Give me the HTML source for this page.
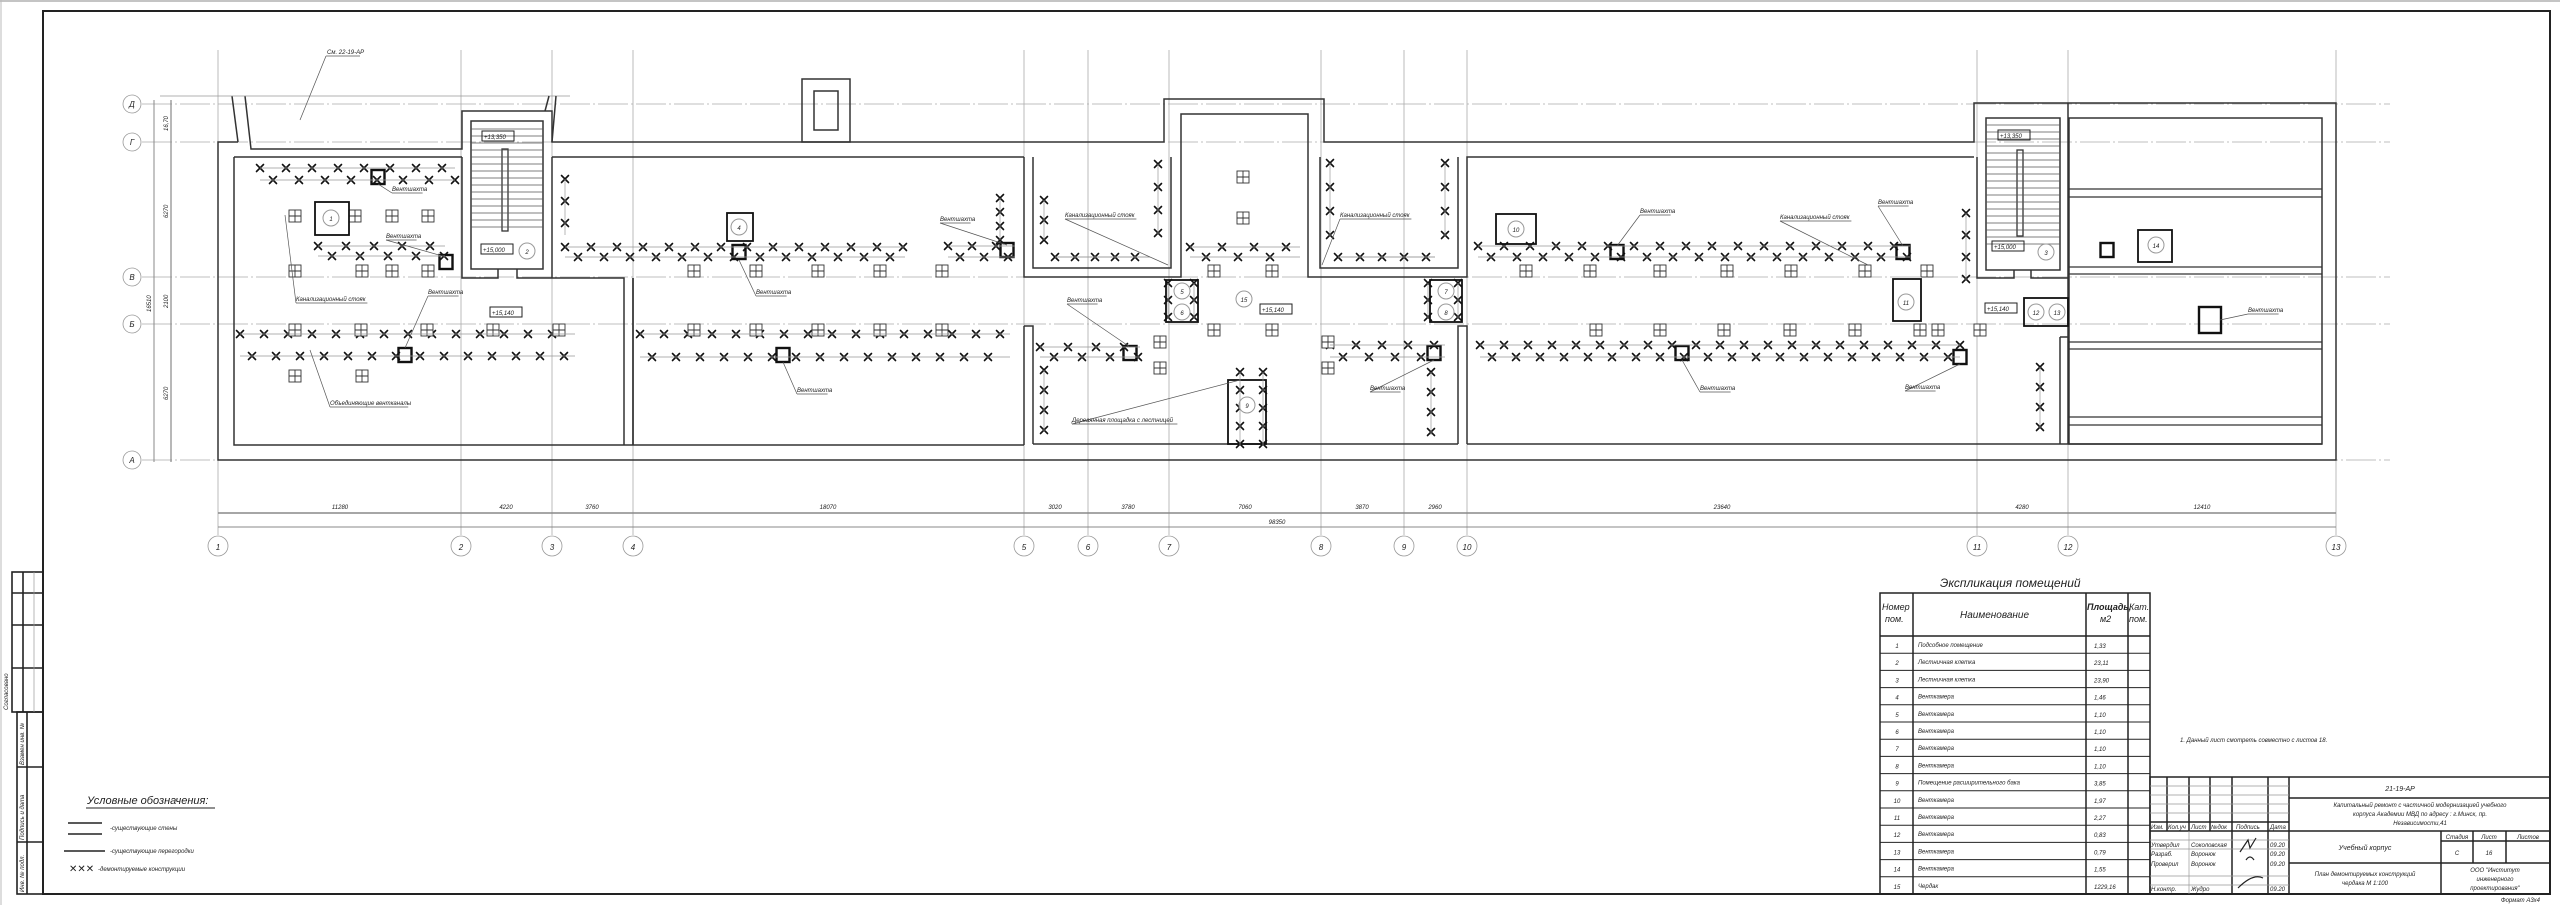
<!DOCTYPE html>
<html><head><meta charset="utf-8">
<style>
html,body{margin:0;padding:0;background:#fff;}
svg{display:block;}
text{font-family:"Liberation Sans","DejaVu Sans",sans-serif;font-style:italic;fill:#222;}
.t{font-size:7px;}
.s{font-size:6px;}
.m{font-size:8px;}
</style></head>
<body>
<svg id="d" width="2560" height="905" viewBox="0 0 2560 905" xmlns="http://www.w3.org/2000/svg">
<rect width="2560" height="905" fill="#fff"/>
<!-- frame -->
<rect x="43" y="11" width="2507" height="883" fill="none" stroke="#222" stroke-width="2"/>
<line x1="0" y1="1" x2="2560" y2="1" stroke="#888" stroke-width="1"/>
<line x1="1" y1="0" x2="1" y2="905" stroke="#bbb" stroke-width="1"/>
<!-- left stamp -->
<g fill="none" stroke="#222" stroke-width="1.6">
<rect x="12" y="572" width="31" height="140"/>
<line x1="23" y1="572" x2="23" y2="712"/>
<line x1="12" y1="593" x2="43" y2="593"/><line x1="12" y1="625" x2="43" y2="625"/><line x1="12" y1="668" x2="43" y2="668"/>
<rect x="17" y="712" width="26" height="182"/>
<line x1="27" y1="712" x2="27" y2="894"/>
<line x1="17" y1="767" x2="43" y2="767"/><line x1="17" y1="842" x2="43" y2="842"/>
</g>
<g stroke="#999" stroke-width="0.7"><line x1="34" y1="572" x2="34" y2="712"/></g>
<text class="s" transform="translate(8,710) rotate(-90)">Согласовано</text>
<text class="s" transform="translate(24,765) rotate(-90)">Взамен инв. №</text>
<text class="s" transform="translate(24,840) rotate(-90)">Подпись и дата</text>
<text class="s" transform="translate(24,892) rotate(-90)">Инв. № подл.</text>

<!-- axis lines -->
<g id="axes" stroke="#aaa" stroke-width="0.8" fill="none"></g>
<g id="plan" fill="none" stroke="#333" stroke-width="1.5">
<!-- outer walls -->
<polyline points="238,142 218,142 218,460 2336,460 2336,103 1974,103 1974,142 1324,142 1324,99 1164,99 1164,142 552,142 552,111 462,111 462,142 462,149 251,149 245,96"/>
<polyline points="238,142 232,96"/>
<line x1="160" y1="96" x2="570" y2="96" stroke="#999" stroke-width="0.8"/>
<polyline points="552,142 556,96"/><polyline points="545,111 549,96"/>
<!-- inner walls -->
<polyline points="234,157 234,445 1024,445"/>
<line x1="234" y1="157" x2="462" y2="157"/>
<rect x="471" y="121" width="72" height="148"/>
<polyline points="462,157 462,278 498,278 498,269"/><polyline points="517,269 517,278 624,278 624,445"/>
<polyline points="552,157 552,278"/><polyline points="633,445 633,278 633,278"/>
<line x1="552" y1="157" x2="1024" y2="157"/>
<line x1="633" y1="278" x2="633" y2="445"/>
<!-- middle -->
<polyline points="1024,157 1024,277 1181,277 1181,114 1308,114 1308,277 1467,277 1467,157 1974,157"/>
<polyline points="1033,157 1033,268 1171,268 1171,157"/>
<polyline points="1320,157 1320,268 1458,268 1458,157"/>
<polyline points="1024,326 1033,326 1033,444"/><line x1="1024" y1="326" x2="1024" y2="445"/>
<polyline points="1458,444 1458,326 1467,326 1467,444"/>
<line x1="1033" y1="444" x2="1458" y2="444"/>
<line x1="1467" y1="444" x2="2322" y2="444"/>
<!-- right stair -->
<polyline points="1977,157 1977,278 2014,278 2014,270"/><polyline points="2031,270 2031,278 2068,278 2068,103"/>
<rect x="1986" y="118" width="74" height="152"/>
<rect x="2069" y="118" width="253" height="326"/>
<line x1="2060" y1="337" x2="2060" y2="444"/><line x1="2060" y1="337" x2="2068" y2="337"/><line x1="2068" y1="278" x2="2068" y2="444"/>
<g stroke-width="1.2">
<line x1="2069" y1="189" x2="2322" y2="189"/><line x1="2069" y1="197" x2="2322" y2="197"/>
<line x1="2069" y1="267" x2="2322" y2="267"/><line x1="2069" y1="274" x2="2322" y2="274"/>
<line x1="2069" y1="342" x2="2322" y2="342"/><line x1="2069" y1="349" x2="2322" y2="349"/>
<line x1="2069" y1="417" x2="2322" y2="417"/><line x1="2069" y1="425" x2="2322" y2="425"/>
</g>
<!-- top small box -->
<rect x="802" y="79" width="48" height="63"/><rect x="814" y="91" width="24" height="39"/>
</g>
<!-- stairs -->
<g id="stairs" stroke="#555" stroke-width="0.7" fill="none"></g>
<g id="marks" stroke="#111" stroke-width="1.6" fill="none" stroke-linecap="round"></g>
<g id="sq" stroke="#333" stroke-width="0.9" fill="#fff"></g>
<g id="vs" stroke="#111" stroke-width="2.4" fill="none"></g>
<g id="circ" stroke="#999" stroke-width="1" fill="#fff"></g>
<g id="lead" stroke="#555" stroke-width="0.7" fill="none"></g>
<g id="txt"></g>

<!-- Room schedule -->
<text x="1940" y="587" style="font-size:12px">Экспликация помещений</text>
<g fill="none" stroke="#222" stroke-width="1.5">
<rect x="1880" y="593" width="270" height="301"/>
<line x1="1913" y1="593" x2="1913" y2="894"/><line x1="2086" y1="593" x2="2086" y2="894"/><line x1="2128" y1="593" x2="2128" y2="894"/>
<line x1="1880" y1="636" x2="2150" y2="636"/>
</g>
<g id="tbl" stroke="#222" stroke-width="1"></g>
<text x="1882" y="610" style="font-size:9px">Номер</text><text x="1885" y="622" style="font-size:9px">пом.</text>
<text x="1960" y="618" style="font-size:10px">Наименование</text>
<text x="2087" y="610" style="font-size:9px;font-weight:bold">Площадь,</text><text x="2100" y="622" style="font-size:9px">м2</text>
<text x="2129" y="610" style="font-size:9px">Кат.</text><text x="2129" y="622" style="font-size:9px">пом.</text>

<!-- title block -->
<g fill="none" stroke="#222" stroke-width="1.5">
<rect x="2150" y="777" width="400" height="117"/>
<line x1="2289" y1="777" x2="2289" y2="894"/>
<line x1="2289" y1="798" x2="2550" y2="798"/>
<line x1="2150" y1="831" x2="2550" y2="831"/>
<line x1="2289" y1="863" x2="2550" y2="863"/>
<line x1="2441" y1="831" x2="2441" y2="894"/>
<line x1="2473" y1="831" x2="2473" y2="863"/><line x1="2506" y1="831" x2="2506" y2="863"/>
<line x1="2441" y1="841" x2="2550" y2="841"/>
<line x1="2150" y1="822" x2="2289" y2="822"/>
<line x1="2167" y1="777" x2="2167" y2="831"/><line x1="2189" y1="777" x2="2189" y2="831"/><line x1="2210" y1="777" x2="2210" y2="831"/>
<line x1="2232" y1="777" x2="2232" y2="894"/><line x1="2268" y1="777" x2="2268" y2="894"/>
</g>
<g stroke="#999" stroke-width="0.7">
<line x1="2150" y1="786" x2="2289" y2="786"/><line x1="2150" y1="795" x2="2289" y2="795"/><line x1="2150" y1="804" x2="2289" y2="804"/><line x1="2150" y1="813" x2="2289" y2="813"/>
<line x1="2150" y1="840" x2="2289" y2="840"/><line x1="2150" y1="849" x2="2289" y2="849"/><line x1="2150" y1="876" x2="2289" y2="876"/><line x1="2150" y1="885" x2="2289" y2="885"/>
<line x1="2189" y1="831" x2="2189" y2="894"/>
</g>
<g class="s">
<text x="2151" y="829" class="s">Изм.</text><text x="2168" y="829" class="s">Кол.уч</text><text x="2191" y="829" class="s">Лист</text><text x="2211" y="829" class="s">№док</text><text x="2236" y="829" class="s">Подпись</text><text x="2270" y="829" class="s">Дата</text>
<text x="2151" y="847" class="s">Утвердил</text><text x="2191" y="847" class="s">Соколовская</text><text x="2270" y="847" class="s">09.20</text>
<text x="2151" y="856" class="s">Разраб.</text><text x="2191" y="856" class="s">Воронюк</text><text x="2270" y="856" class="s">09.20</text>
<text x="2151" y="866" class="s">Проверил</text><text x="2191" y="866" class="s">Воронюк</text><text x="2270" y="866" class="s">09.20</text>
<text x="2151" y="891" class="s">Н.контр.</text><text x="2191" y="891" class="s">Жудро</text><text x="2270" y="891" class="s">09.20</text>
</g>
<path d="M2240 852 l8 -12 l2 8 l6 -10 M2246 860 q4 -6 8 0 M2238 888 q15 -15 25 -10" stroke="#222" fill="none" stroke-width="1.2"/>
<text x="2400" y="791" class="t" text-anchor="middle">21-19-АР</text>
<text x="2420" y="807" class="s" text-anchor="middle">Капитальный ремонт с частичной модернизацией учебного</text>
<text x="2420" y="816" class="s" text-anchor="middle">корпуса Академии МВД по адресу : г.Минск, пр.</text>
<text x="2420" y="825" class="s" text-anchor="middle">Независимости,41</text>
<text x="2365" y="850" class="t" text-anchor="middle">Учебный корпус</text>
<text x="2457" y="839" class="s" text-anchor="middle">Стадия</text><text x="2489" y="839" class="s" text-anchor="middle">Лист</text><text x="2528" y="839" class="s" text-anchor="middle">Листов</text>
<text x="2457" y="855" class="s" text-anchor="middle">С</text><text x="2489" y="855" class="s" text-anchor="middle">16</text>
<text x="2365" y="876" class="s" text-anchor="middle">План демонтируемых конструкций</text>
<text x="2365" y="885" class="s" text-anchor="middle">чердака М 1:100</text>
<text x="2495" y="872" class="s" text-anchor="middle">ООО "Институт</text>
<text x="2495" y="881" class="s" text-anchor="middle">инженерного</text>
<text x="2495" y="890" class="s" text-anchor="middle">проектирования"</text>
<text x="2540" y="902" class="s" text-anchor="end">Формат А3х4</text>
<text x="2180" y="742" class="s">1. Данный лист смотреть совместно с листов 18.</text>

<!-- legend -->
<text x="87" y="804" style="font-size:11px">Условные обозначения:</text>
<line x1="86" y1="808" x2="215" y2="808" stroke="#222" stroke-width="1"/>
<g stroke="#222" stroke-width="1.5"><line x1="68" y1="823" x2="102" y2="823"/><line x1="68" y1="834" x2="102" y2="834"/><line x1="64" y1="851" x2="105" y2="851"/></g>
<text x="110" y="830" class="s">-существующие стены</text>
<text x="110" y="853" class="s">-существующие перегородки</text>
<text x="69" y="872" style="font-size:10px;font-weight:bold;font-style:normal">✕✕✕</text>
<text x="98" y="871" class="s">-демонтируемые конструкции</text>
</svg>
<script>
var NS="http://www.w3.org/2000/svg";
function el(g,t,a,txt){var e=document.createElementNS(NS,t);for(var k in a)e.setAttribute(k,a[k]);if(txt!==undefined)e.textContent=txt;document.getElementById(g).appendChild(e);return e;}
// axes
var vx=[218,461,552,633,1024,1088,1169,1321,1404,1467,1977,2068,2336];
vx.forEach(function(x,i){el('axes','line',{x1:x,y1:50,x2:x,y2:535});
 el('axes','circle',{cx:x,cy:546,r:10,stroke:'#999'});
 el('txt','text',{x:x,y:550,'text-anchor':'middle','class':'m',fill:'#777'},String(i+1));});
var hy=[[104,'Д'],[142,'Г'],[277,'В'],[324,'Б'],[460,'А']];
hy.forEach(function(r){el('axes','line',{x1:142,y1:r[0],x2:2390,y2:r[0],'stroke-dasharray':'30 3 2 3'});
 el('axes','circle',{cx:132,cy:r[0],r:9,stroke:'#999',fill:'#fff'});
 el('txt','text',{x:132,y:r[0]+3,'text-anchor':'middle','class':'m',fill:'#777'},r[1]);});
// dims
el('axes','line',{x1:218,y1:513,x2:2336,y2:513,stroke:'#888','stroke-width':1.5});
el('axes','line',{x1:218,y1:527,x2:2336,y2:527,stroke:'#888','stroke-width':1});
var dt=[[340,'11280'],[506,'4220'],[592,'3760'],[828,'18070'],[1055,'3020'],[1128,'3780'],[1245,'7060'],[1362,'3870'],[1435,'2960'],[1722,'23640'],[2022,'4280'],[2202,'12410']];
dt.forEach(function(d){el('txt','text',{x:d[0],y:509,'text-anchor':'middle','class':'s'},d[1]);});
el('txt','text',{x:1277,y:524,'text-anchor':'middle','class':'s'},'98350');
el('axes','line',{x1:171,y1:100,x2:171,y2:462,stroke:'#888','stroke-width':1.2});
el('axes','line',{x1:154,y1:100,x2:154,y2:462,stroke:'#888','stroke-width':1});
[[123,'16,70'],[210,'6270'],[300,'2100'],[392,'6270']].forEach(function(d){var t=el('txt','text',{x:0,y:0,'class':'s',transform:'translate(168,'+(d[0]+8)+') rotate(-90)'},d[1]);});
el('txt','text',{x:0,y:0,'class':'s',transform:'translate(151,312) rotate(-90)'},'16510');
// stairs
function stair(x1,x2,y1,y2){for(var y=y1;y<y2;y+=7)el('stairs','line',{x1:x1,y1:y,x2:x2,y2:y});}
stair(471,543,129,230);stair(1986,2060,125,245);
el('plan','rect',{x:502,y:149,width:6,height:82,'stroke-width':1.3});
el('plan','rect',{x:2017,y:150,width:6,height:86,'stroke-width':1.3});
// crosses
function X(x,y){var s=3.5;el('marks','path',{d:'M'+(x-s)+' '+(y-s)+'L'+(x+s)+' '+(y+s)+'M'+(x+s)+' '+(y-s)+'L'+(x-s)+' '+(y+s)});}
function row(y1,y2,xa,xb,st){var k=0;for(var x=xa;x<=xb;x+=st){X(x,(k%2?y2:y1));k++;}
 el('lead','line',{x1:xa,y1:y1,x2:xb,y2:y1,stroke:'#999'});el('lead','line',{x1:xa,y1:y2,x2:xb,y2:y2,stroke:'#999'});}
function col(x,ya,yb,st){for(var y=ya;y<=yb;y+=st)X(x,y);el('lead','line',{x1:x,y1:ya,x2:x,y2:yb,stroke:'#999'});}
row(168,180,260,455,13);row(246,256,318,445,14);row(334,356,240,575,12);
col(565,179,235,22);row(247,257,565,905,13);row(334,357,640,1010,12);
row(246,257,948,1015,12);col(1000,198,240,14);
col(1158,164,235,23);row(257,257,1055,1150,20);col(1044,200,240,20);
col(1330,163,236,24);col(1445,163,236,24);row(257,257,1338,1435,22);
row(247,257,1190,1300,16);
row(347,357,1040,1140,14);col(1044,370,432,20);
row(345,357,1330,1445,13);col(1431,372,435,20);
row(246,257,1478,1910,13);row(345,357,1480,1960,12);col(2040,367,429,20);col(1966,213,280,22);
col(1168,283,318,17);col(1194,283,318,17);col(1428,283,318,17);col(1458,283,318,17);
col(1240,372,445,18);col(1263,372,445,18);
// squares
function S(x,y){el('sq','rect',{x:x-6,y:y-6,width:12,height:12});el('sq','path',{d:'M'+x+' '+(y-6)+'V'+(y+6)+'M'+(x-6)+' '+y+'H'+(x+6),fill:'none'});}
[[295,216],[355,216],[392,216],[428,216],[295,271],[362,271],[392,271],[428,271],[295,376],[362,376],[1243,177],[1243,218],[1160,342],[1160,368],[1328,342],[1328,368]].forEach(function(p){S(p[0],p[1]);});
for(var x=295;x<600;x+=66)S(x,330);
for(var x=694;x<1000;x+=62){S(x,271);S(x,330);}
[1214,1272,1596,1660,1724,1790,1855,1920,1938,1980].forEach(function(x){S(x,330);});
[1214,1272,1526,1590,1660,1727,1791,1865,1927].forEach(function(x){S(x,271);});
// vent shafts
function V(x,y,w,h){el('vs','rect',{x:x-w/2,y:y-h/2,width:w,height:h});}
[[378,177],[446,262],[405,355],[739,252],[783,355],[1007,250],[1130,353],[1617,252],[1682,353],[1434,353],[1903,252],[1960,357],[2107,250]].forEach(function(p){V(p[0],p[1],13,14);});
V(2210,320,22,26);
// room boxes
function R(x,y,w,h){el('vs','rect',{x:x,y:y,width:w,height:h,'stroke-width':1.8});}
R(315,202,34,33);R(727,213,26,28);R(1166,280,32,42);R(1430,280,32,42);R(1228,380,38,64);R(1496,214,40,30);R(1893,279,28,42);R(2024,298,44,28);R(2138,230,34,32);
// circles
var cs=[[331,218,'1'],[527,251,'2'],[739,227,'4'],[1182,291,'5'],[1182,312,'6'],[1244,299,'15'],[1446,291,'7'],[1446,312,'8'],[1247,405,'9'],[1516,229,'10'],[2046,252,'3'],[1906,302,'11'],[2036,312,'12'],[2057,312,'13'],[2156,245,'14']];
cs.forEach(function(c){el('circ','circle',{cx:c[0],cy:c[1],r:8});el('txt','text',{x:c[0],y:c[1]+3,'text-anchor':'middle','class':'s'},c[2]);});
// labels
function L(x,y,t,lx,ly){var e=el('txt','text',{x:x,y:y,'class':'s'},t);var w=t.length*3.4;
 el('lead','line',{x1:x,y1:y+2,x2:x+w,y2:y+2});if(lx!==undefined)el('lead','line',{x1:x,y1:y+2,x2:lx,y2:ly});}
L(392,191,'Вентшахта',378,184);L(386,238,'Вентшахта',446,257);L(428,294,'Вентшахта',405,348);
L(296,301,'Канализационный стояк',285,215);L(756,294,'Вентшахта',739,260);
L(330,405,'Объединяющие вентканалы',310,350);L(797,392,'Вентшахта',783,362);
L(940,221,'Вентшахта',1007,245);L(1065,217,'Канализационный стояк',1168,265);
L(1340,217,'Канализационный стояк',1322,265);L(1640,213,'Вентшахта',1617,246);
L(1067,302,'Вентшахта',1130,347);L(1072,422,'Деревянная площадка с лестницей',1240,380);
L(1370,390,'Вентшахта',1434,360);L(1700,390,'Вентшахта',1682,360);
L(1878,204,'Вентшахта',1903,246);L(1780,219,'Канализационный стояк',1868,265);
L(1905,389,'Вентшахта',1960,364);L(2248,312,'Вентшахта',2220,320);
el('txt','text',{x:327,y:54,'class':'s'},'См. 22-19-АР');el('lead','line',{x1:326,y1:56,x2:360,y2:56});el('lead','line',{x1:326,y1:56,x2:300,y2:120});
function B(x,y,t){el('lead','rect',{x:x,y:y-8,width:t.length*4+4,height:10,stroke:'#222','stroke-width':1});el('txt','text',{x:x+2,y:y,'class':'s'},t);}
B(482,139,'+13,350');B(481,252,'+15,000');B(490,315,'+15,140');B(1260,312,'+15,140');B(1998,138,'+13,350');B(1992,249,'+15,000');B(1985,311,'+15,140');
// table rows
var rows=[['1','Подсобное помещение','1,33'],['2','Лестничная клетка','23,11'],['3','Лестничная клетка','23,90'],['4','Венткамера','1,46'],['5','Венткамера','1,10'],['6','Венткамера','1,10'],['7','Венткамера','1,10'],['8','Венткамера','1,10'],['9','Помещение расширительного бака','3,85'],['10','Венткамера','1,97'],['11','Венткамера','2,27'],['12','Венткамера','0,83'],['13','Венткамера','0,79'],['14','Венткамера','1,55'],['15','Чердак','1229,16']];
rows.forEach(function(r,i){var y=636+i*17.2;if(i>0)el('tbl','line',{x1:1880,y1:y,x2:2150,y2:y});
 el('txt','text',{x:1897,y:y+12,'text-anchor':'middle','class':'s'},r[0]);el('txt','text',{x:1918,y:y+11,'class':'s'},r[1]);el('txt','text',{x:2094,y:y+12,'class':'s'},r[2]);});
</script>
</body></html>
